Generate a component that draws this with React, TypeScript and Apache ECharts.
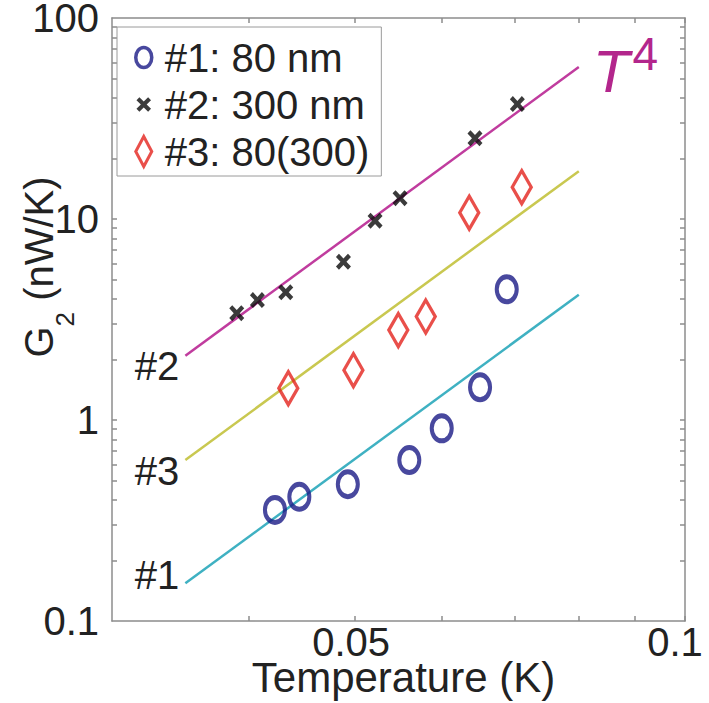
import React, { useEffect, useRef } from "react";
import * as echarts from "echarts";

// ---- data ----
const seriesNames = ["#1: 80 nm", "#2: 300 nm", "#3: 80(300)"];

const T1 = [0.04225, 0.04447, 0.04924, 0.05603, 0.05998, 0.06501, 0.06876];
const G1 = [0.357, 0.415, 0.479, 0.632, 0.909, 1.455, 4.47];

const T2 = [0.03899, 0.04072, 0.04322, 0.04879, 0.05214, 0.05495, 0.06432, 0.07031];
const G2 = [3.4, 3.95, 4.32, 6.13, 9.8, 12.7, 25.2, 37.3];

const T3 = [0.04345, 0.04982, 0.05475, 0.058, 0.06355, 0.07096];
const G3 = [1.44, 1.77, 2.8, 3.27, 10.75, 14.4];

// T^4 guide lines (end points)
const fitT = [0.035, 0.08];
const fit2 = [2.09, 57.0];
const fit3 = [0.632, 17.3];
const fit1 = [0.154, 4.2];

const xRange = [0.03, 0.1];
const yRange = [0.1, 100];
const xTicks = [0.04, 0.05, 0.06, 0.07, 0.08, 0.09, 0.1];
const xLabels = [0.05, 0.1];
const yTicks = [
  0.2, 0.3, 0.4, 0.5, 0.6, 0.7, 0.8, 0.9, 1,
  2, 3, 4, 5, 6, 7, 8, 9, 10,
  20, 30, 40, 50, 60, 70, 80, 90,
];
const yLabels = [0.1, 1, 10, 100];

const FONT = "'Liberation Sans', Arial, Helvetica, sans-serif";
const AX = "#8c8c8c";
const TXT = "#222222";
const C_BLUE = "#1a1a86";
const C_RED = "#e3231d";
const C_BLACK = "#0a0a0a";
const C_MAG = "#c03c9e";
const C_YEL = "#c9c850";
const C_CYAN = "#3fb1c2";
const C_T4 = "#b3268c";

const ELLIPSE =
  "path://M10,0C15.52,0,20,5.6,20,12.5C20,19.4,15.52,25,10,25C4.48,25,0,19.4,0,12.5C0,5.6,4.48,0,10,0Z";
const XMARK =
  "path://M0,2L2,0L5,3L8,0L10,2L7,5L10,8L8,10L5,7L2,10L0,8L3,5Z";
const XMARK_LEG =
  "path://M-0.5,-0.5M10.5,10.5M0,2L2,0L5,3L8,0L10,2L7,5L10,8L8,10L5,7L2,10L0,8L3,5Z";

const fmtPow = (v: number) => String(parseFloat(Math.pow(10, v).toPrecision(3)));

const pairs = (xs: number[], ys: number[]) => xs.map((x, i) => [x, ys[i]]);

function fitLine(name: string, ys: number[], color: string, leftLabel: string, dy: number, extraEnd?: any) {
  return {
    name,
    type: "line",
    xAxisIndex: 0,
    yAxisIndex: 0,
    symbol: "circle",
    symbolSize: 0,
    showSymbol: true,
    silent: true,
    z: 1,
    lineStyle: { color, width: 2.5 },
    itemStyle: { color },
    data: [
      {
        value: [fitT[0], ys[0]],
        label: {
          show: true,
          position: "left",
          distance: 6,
          offset: [0, dy],
          formatter: leftLabel,
          fontSize: 40,
          fontFamily: FONT,
          color: TXT,
        },
      },
      extraEnd ? { value: [fitT[1], ys[1]], label: extraEnd } : { value: [fitT[1], ys[1]] },
    ],
  };
}

export default function App() {
  const ref = useRef<HTMLDivElement>(null);
  useEffect(() => {
    if (!ref.current) return;
    const chart = echarts.init(ref.current, null, { renderer: "svg" });

    const valueAxisX = (position: string, withLabels: boolean, withName: boolean) => ({
      type: "value",
      min: Math.log10(xRange[0]),
      max: Math.log10(xRange[1]),
      position,
      axisLine: { show: position === "top", onZero: false, lineStyle: { color: AX, width: 1.5 } },
      axisTick: {
        show: true,
        inside: true,
        length: 5,
        customValues: xTicks.map(Math.log10),
        lineStyle: { color: AX, width: 1.5 },
      },
      axisLabel: withLabels
        ? {
            show: true,
            customValues: xLabels.map(Math.log10),
            margin: 6,
            formatter: (v: number) => {
              const s = fmtPow(v);
              return v > -1.05 ? `{b|${s}}` : `{a|${s}}`;
            },
            rich: {
              a: { fontSize: 40, lineHeight: 30, fontFamily: FONT, color: TXT, padding: [0, 8, 0, 0] },
              b: { fontSize: 40, lineHeight: 30, fontFamily: FONT, color: TXT, padding: [0, 20, 0, 0] },
            },
          }
        : { show: false },
      splitLine: { show: false },
      name: withName ? "Temperature (K)" : "",
      nameLocation: "middle",
      nameGap: 38,
      nameMoveOverlap: false,
      nameTextStyle: { fontSize: 42, lineHeight: 36, fontFamily: FONT, color: TXT, padding: [0, 0, 0, 10] },
    });

    const valueAxisY = (position: string, withLabels: boolean) => ({
      type: "value",
      min: Math.log10(yRange[0]),
      max: Math.log10(yRange[1]),
      position,
      axisLine: { show: position === "right", onZero: false, lineStyle: { color: AX, width: 1.5 } },
      axisTick: {
        show: true,
        inside: true,
        length: 5,
        customValues: yTicks.map(Math.log10),
        lineStyle: { color: AX, width: 1.5 },
      },
      axisLabel: withLabels
        ? {
            show: true,
            customValues: yLabels.map(Math.log10),
            margin: 13,
            formatter: (v: number) => fmtPow(v),
            fontSize: 40,
            lineHeight: 32,
            padding: [10, 0, 0, 0],
            fontFamily: FONT,
            color: TXT,
          }
        : { show: false },
      splitLine: { show: false },
    });

    const option: any = {
      animation: false,
      backgroundColor: "#ffffff",
      grid: { left: 112, right: 24, top: 18, bottom: 82, containLabel: false, outerBoundsMode: "none" },
      legend: {
        orient: "vertical",
        left: 117,
        top: 27,
        padding: [7, 12, 1, 17],
        itemWidth: 16,
        itemHeight: 30,
        itemGap: 0,
        borderColor: "#9a9a9a",
        borderWidth: 1,
        borderRadius: 0,
        backgroundColor: "#ffffff",
        selectedMode: false,
        symbolKeepAspect: true,
        textStyle: { fontSize: 40, fontFamily: FONT, color: TXT, lineHeight: 47, padding: [0, 0, 0, 8] },
        data: [
          {
            name: seriesNames[0],
            icon: ELLIPSE,
            itemStyle: { color: "rgba(255,255,255,0)", borderColor: C_BLUE, borderWidth: 3.5 },
          },
          {
            name: seriesNames[1],
            icon: XMARK_LEG,
            itemStyle: { color: C_BLACK, borderWidth: 0 },
          },
          {
            name: seriesNames[2],
            icon: "diamond",
            itemStyle: { color: "rgba(255,255,255,0)", borderColor: C_RED, borderWidth: 3 },
          },
        ],
      },
      xAxis: [
        {
          type: "log",
          logBase: 10,
          min: xRange[0],
          max: xRange[1],
          position: "bottom",
          axisLine: { show: true, onZero: false, lineStyle: { color: AX, width: 1.5 } },
          axisTick: { show: false },
          axisLabel: { show: false },
          splitLine: { show: false },
          minorTick: { show: false },
        },
        valueAxisX("bottom", true, true),
        valueAxisX("top", false, false),
      ],
      yAxis: [
        {
          type: "log",
          logBase: 10,
          min: yRange[0],
          max: yRange[1],
          position: "left",
          axisLine: { show: true, onZero: false, lineStyle: { color: AX, width: 1.5 } },
          axisTick: { show: false },
          axisLabel: { show: false },
          splitLine: { show: false },
          minorTick: { show: false },
        },
        valueAxisY("left", true),
        valueAxisY("right", false),
      ],
      series: [
        fitLine("fit2", fit2, C_MAG, "#2", 10, {
          show: true,
          position: "right",
          distance: 14,
          offset: [0, -1],
          formatter: "{t|T}{s|4}",
          rich: {
            t: {
              fontSize: 60,
              fontStyle: "italic",
              fontFamily: FONT,
              color: C_T4,
              lineHeight: 70,
              verticalAlign: "bottom",
            },
            s: { fontSize: 46, fontFamily: FONT, color: C_T4, verticalAlign: "top", padding: [0, 0, 0, 3] },
          },
        }),
        fitLine("fit3", fit3, C_YEL, "#3", 11),
        fitLine("fit1", fit1, C_CYAN, "#1", -8),
        {
          name: seriesNames[0],
          type: "scatter",
          xAxisIndex: 0,
          yAxisIndex: 0,
          symbol: ELLIPSE,
          symbolSize: [20, 25],
          itemStyle: { color: "rgba(255,255,255,0)", borderColor: C_BLUE, borderWidth: 4.5 },
          z: 3,
          data: pairs(T1, G1),
        },
        {
          name: seriesNames[1],
          type: "scatter",
          xAxisIndex: 0,
          yAxisIndex: 0,
          symbol: XMARK,
          symbolSize: [15, 16],
          itemStyle: { color: C_BLACK, borderWidth: 0 },
          z: 3,
          data: pairs(T2, G2),
        },
        {
          name: seriesNames[2],
          type: "scatter",
          xAxisIndex: 0,
          yAxisIndex: 0,
          symbol: "diamond",
          symbolSize: [19, 33],
          itemStyle: { color: "rgba(255,255,255,0)", borderColor: C_RED, borderWidth: 3.5 },
          z: 3,
          data: pairs(T3, G3),
        },
      ],
      graphic: [
        {
          type: "text",
          x: 19,
          y: 267,
          rotation: Math.PI / 2,
          style: {
            text: "{g|G}{s|2}{g| (nW/K)}",
            align: "center",
            verticalAlign: "top",
            rich: {
              g: { fontSize: 40, fontFamily: FONT, fill: TXT, lineHeight: 59, verticalAlign: "top" },
              s: { fontSize: 26, fontFamily: FONT, fill: TXT, verticalAlign: "bottom" },
            },
          },
        },
      ],
    };

    chart.setOption(option);
    return () => chart.dispose();
  }, []);

  return (
    <div
      ref={ref}
      style={{ position: "absolute", left: 0, top: 0, width: 709, height: 703, background: "#fff" }}
    />
  );
}
